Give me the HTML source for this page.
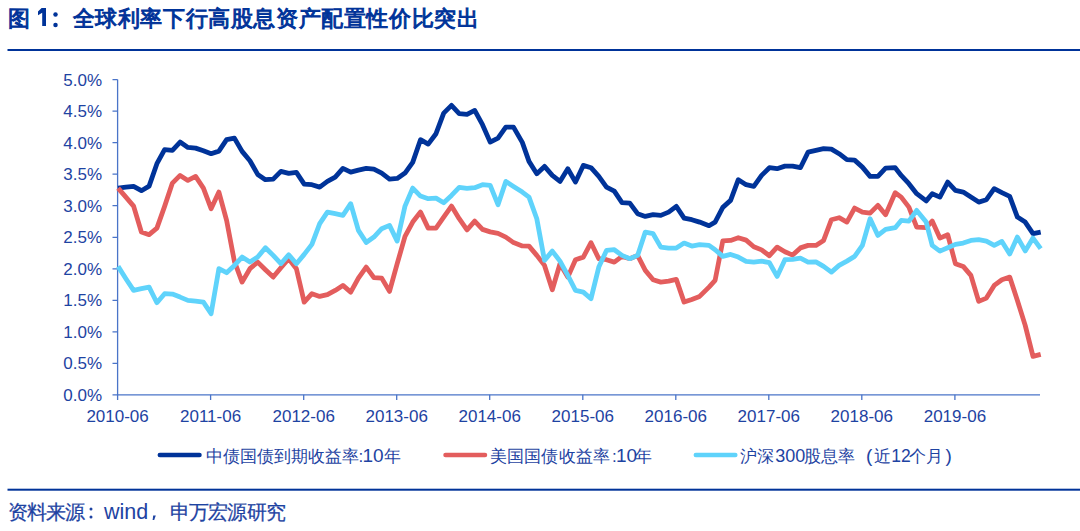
<!DOCTYPE html>
<html><head><meta charset="utf-8">
<style>
html,body{margin:0;padding:0;background:#fff;}
body{width:1080px;height:531px;overflow:hidden;position:relative;font-family:"Liberation Sans",sans-serif;}
svg{position:absolute;left:0;top:0;}
</style></head><body>
<svg width="1080" height="531" viewBox="0 0 1080 531">
<polygon fill="#003399" points="41.6,7.9 46,7.9 46,26 42.2,26 42.2,12.8 38,15.2 38,11.6"/>
<circle cx="55.5" cy="14.4" r="2.25" fill="#003399"/><circle cx="55.5" cy="25" r="2.25" fill="#003399"/>
<rect x="7.5" y="49" width="1073" height="2" fill="#003399"/>
<rect x="7.5" y="488.7" width="1073" height="2" fill="#003399"/>
<g stroke="#4a74c8" stroke-width="1.3" fill="none">
<line x1="117.6" y1="79.6" x2="117.6" y2="395"/>
<line x1="117.6" y1="394.8" x2="1040" y2="394.8"/>
<path d="M112.5 79.7H117.6M112.5 111.2H117.6M112.5 142.7H117.6M112.5 174.2H117.6M112.5 205.7H117.6M112.5 237.3H117.6M112.5 268.8H117.6M112.5 300.3H117.6M112.5 331.8H117.6M112.5 363.3H117.6M112.5 394.8H117.6"/>
<path d="M117.6 394.8V400M210.6 394.8V400M303.7 394.8V400M396.7 394.8V400M489.7 394.8V400M582.8 394.8V400M675.8 394.8V400M768.8 394.8V400M861.8 394.8V400M954.9 394.8V400"/>
</g>
<g font-family="Liberation Sans" font-size="17" fill="#1e43a2" text-anchor="end">
<text x="102" y="85.8">5.0%</text>
<text x="102" y="117.3">4.5%</text>
<text x="102" y="148.8">4.0%</text>
<text x="102" y="180.3">3.5%</text>
<text x="102" y="211.8">3.0%</text>
<text x="102" y="243.4">2.5%</text>
<text x="102" y="274.9">2.0%</text>
<text x="102" y="306.4">1.5%</text>
<text x="102" y="337.9">1.0%</text>
<text x="102" y="369.4">0.5%</text>
<text x="102" y="400.9">0.0%</text>
</g>
<g font-family="Liberation Sans" font-size="17" fill="#1e43a2" text-anchor="middle">
<text x="117.6" y="421.8">2010-06</text>
<text x="210.6" y="421.8">2011-06</text>
<text x="303.7" y="421.8">2012-06</text>
<text x="396.7" y="421.8">2013-06</text>
<text x="489.7" y="421.8">2014-06</text>
<text x="582.8" y="421.8">2015-06</text>
<text x="675.8" y="421.8">2016-06</text>
<text x="768.8" y="421.8">2017-06</text>
<text x="861.8" y="421.8">2018-06</text>
<text x="954.9" y="421.8">2019-06</text>
</g>
<g fill="none" stroke-width="4.8" stroke-linejoin="round" stroke-linecap="butt">
<polyline stroke="#003399" points="118.1,188.1 125.9,187.1 133.6,186.4 141.4,190.7 149.1,186.1 156.9,163.7 164.6,149.7 172.4,150.4 180.1,142.1 187.9,147.4 195.6,148.1 203.4,150.7 211.1,153.7 218.9,151.1 226.6,139.7 234.4,138.1 242.1,151.4 249.9,160.7 257.7,174.4 265.4,179.7 273.2,179.1 280.9,171.4 288.7,173.4 296.4,172.4 304.2,184.1 311.9,184.7 319.7,187.1 327.4,181.4 335.2,177.1 342.9,168.4 350.7,172.1 358.4,170.1 366.2,168.4 373.9,169.1 381.7,173.1 389.5,179.1 397.2,178.4 405.0,173.1 412.7,162.4 420.5,139.7 428.2,144.1 436.0,133.7 443.7,113.1 451.5,105.4 459.2,113.7 467.0,114.4 474.7,110.4 482.5,124.7 490.2,142.1 498.0,138.1 505.8,127.1 513.5,127.1 522.3,142.4 529.0,161.4 536.8,173.7 544.5,166.4 552.3,175.4 560.0,181.4 567.8,168.7 575.5,182.1 583.3,165.4 591.0,167.7 598.8,176.4 606.5,187.1 614.3,191.1 622.0,202.7 629.8,203.1 637.6,213.7 645.3,216.4 653.1,214.7 660.8,215.4 668.6,212.1 676.3,206.4 684.1,218.1 691.8,219.7 699.6,222.1 709.0,225.7 715.1,222.1 722.8,207.4 730.6,200.4 738.3,179.7 746.1,184.7 753.8,186.4 761.6,175.4 769.4,167.7 777.1,168.7 784.9,166.1 792.6,166.1 800.4,167.7 808.1,152.1 815.9,150.4 823.6,148.7 831.4,149.1 839.1,153.7 846.9,159.7 854.6,160.1 862.4,167.1 870.1,176.4 877.9,176.4 885.6,168.1 895.2,167.7 901.2,175.4 908.9,183.7 916.7,193.7 926.2,200.9 932.2,193.7 939.9,197.1 947.7,182.1 955.4,190.4 963.2,192.1 970.9,197.1 978.7,202.1 986.4,199.7 994.2,188.7 1001.9,192.7 1009.7,196.4 1017.4,217.1 1025.2,222.1 1033.0,233.7 1040.7,232.1"/>
<polyline stroke="#e35d5d" points="118.1,188.1 125.9,197.1 133.6,206.1 141.4,232.1 149.1,234.7 156.9,228.1 164.6,206.4 172.4,183.1 180.1,175.4 187.9,180.4 195.6,176.4 203.4,188.1 211.1,208.7 218.9,192.1 226.6,220.4 234.4,261.4 242.1,282.1 249.9,268.7 257.7,262.1 265.4,269.7 273.2,277.1 280.9,267.7 288.7,258.7 296.4,268.7 304.2,302.1 311.9,293.7 319.7,296.4 327.4,294.7 335.2,290.4 342.9,285.4 350.7,292.1 358.4,278.1 366.2,267.1 373.9,277.7 381.7,278.1 389.5,291.4 397.2,263.7 405.0,236.4 412.7,222.1 420.5,212.1 428.2,228.1 436.0,228.1 443.7,217.1 451.5,206.1 459.2,218.7 467.0,229.9 474.7,221.1 482.5,229.4 490.2,231.9 498.0,233.4 505.8,237.1 513.5,242.6 522.3,245.9 529.0,246.1 536.8,255.4 544.5,265.4 552.3,289.7 560.0,263.7 567.8,277.1 575.5,259.7 583.3,257.1 591.0,242.7 598.8,258.7 606.5,259.7 614.3,262.1 622.0,256.4 629.8,258.7 637.6,255.4 645.3,270.4 653.1,279.7 660.8,282.1 668.6,281.1 676.3,279.4 684.1,302.1 691.8,299.4 699.6,296.4 709.0,287.1 715.1,280.4 722.8,240.9 730.6,240.4 738.3,237.7 746.1,240.1 753.8,246.7 761.6,249.9 769.4,255.7 777.1,247.1 784.9,251.7 792.6,255.1 800.4,247.9 808.1,245.4 815.9,245.4 823.6,240.4 831.4,219.7 839.1,217.7 846.9,222.1 854.6,208.1 862.4,212.1 870.1,213.1 877.9,205.4 885.6,214.7 895.2,192.7 901.2,197.1 908.9,207.1 916.7,227.1 926.2,227.7 932.2,221.1 939.9,238.1 947.7,234.7 955.4,263.7 963.2,266.4 970.9,275.4 978.7,301.4 986.4,298.1 994.2,285.4 1001.9,279.7 1009.7,277.1 1017.4,300.4 1025.2,325.4 1033.0,356.4 1040.7,354.4"/>
<polyline stroke="#5fd3fb" points="118.1,266.4 125.9,278.7 133.6,290.4 141.4,288.7 149.1,287.1 156.9,302.7 164.6,293.7 172.4,294.1 180.1,297.1 187.9,300.4 195.6,301.1 203.4,302.1 211.1,313.7 218.9,268.7 226.6,272.7 234.4,265.4 242.1,257.1 249.9,262.1 257.7,257.1 265.4,247.7 273.2,255.4 280.9,263.7 288.7,254.7 296.4,263.7 304.2,254.4 311.9,244.4 319.7,223.7 327.4,212.1 335.2,213.7 342.9,215.4 350.7,203.7 358.4,230.4 366.2,242.4 373.9,237.1 381.7,228.7 389.5,225.4 397.2,241.1 405.0,206.1 412.7,188.1 420.5,196.1 428.2,198.7 436.0,198.1 443.7,202.7 451.5,195.4 459.2,187.4 467.0,188.4 474.7,187.7 482.5,184.7 490.2,185.4 498.0,204.7 505.8,181.4 513.5,186.4 522.3,192.1 529.0,197.1 536.8,218.7 544.5,260.4 552.3,251.1 560.0,261.1 567.8,275.4 575.5,290.4 583.3,292.1 591.0,298.7 598.8,267.1 606.5,250.4 614.3,249.7 622.0,255.4 629.8,258.7 637.6,255.4 645.3,232.1 653.1,233.7 660.8,247.1 668.6,248.1 676.3,248.1 684.1,243.1 691.8,246.1 699.6,244.7 709.0,245.4 715.1,249.7 722.8,256.4 730.6,254.4 738.3,257.1 746.1,261.4 753.8,262.1 761.6,261.1 769.4,262.7 777.1,276.4 784.9,259.7 792.6,259.4 800.4,258.1 808.1,262.1 815.9,261.9 823.6,266.4 831.4,272.1 839.1,265.4 846.9,261.1 854.6,256.4 862.4,245.4 870.1,218.7 877.9,235.4 885.6,229.4 895.2,227.7 901.2,220.4 908.9,221.1 916.7,210.4 926.2,222.1 932.2,245.4 939.9,251.1 947.7,247.7 955.4,244.4 963.2,243.1 970.9,240.4 978.7,239.7 986.4,241.1 994.2,245.4 1001.9,241.4 1009.7,253.9 1017.4,237.1 1025.2,250.9 1033.0,238.1 1040.7,248.7"/>
</g>
<g stroke-width="4.5" stroke-linecap="round">
<line x1="159.8" y1="455" x2="199.5" y2="455" stroke="#003399"/>
<line x1="445.5" y1="455" x2="485" y2="455" stroke="#e35d5d"/>
<line x1="695.8" y1="455" x2="735.3" y2="455" stroke="#5fd3fb"/>
</g>
<g font-family="Liberation Sans" font-size="17" fill="#1e43a2">
<text y="461.5"><tspan x="205.5">中债国债到期收益率:</tspan><tspan font-size="19" x="362.5">10</tspan><tspan x="383.5">年</tspan></text>
<text y="461.5"><tspan x="489.5 506.8 524.1 541.4 558.7 576.0 593.3 612">美国国债收益率:</tspan><tspan font-size="19" x="616">10</tspan><tspan x="635">年</tspan></text>
<text y="461.5"><tspan x="739.5">沪深</tspan><tspan font-size="18" x="775.3">300</tspan><tspan x="803.5">股息率</tspan><tspan font-size="19" x="866">(</tspan><tspan x="873.5">近</tspan><tspan font-size="17.5" x="891.2">12</tspan><tspan x="909">个月</tspan><tspan font-size="19" x="945.5">)</tspan></text>
</g>
<g fill="#003399" stroke="#003399" stroke-width="1" font-family="Liberation Sans" font-size="21.5">
<text x="8" y="26">图</text>
<text x="72.6 95.2 117.8 140.4 163.0 185.6 208.2 230.8 253.4 276.0 298.6 321.2 343.8 366.4 389.0 411.6 434.2 456.8" y="26">全球利率下行高股息资产配置性价比突出</text>
</g>
<g fill="#1e43a2" stroke="#1e43a2" stroke-width="0.25" font-family="Liberation Sans" font-size="19.5">
<text x="7.5 26.7 45.9 65.1" y="519">资料来源</text>
<text x="169.8 189.0 208.2 227.4 246.6 265.8" y="519">申万宏源研究</text>
<text x="104" y="519" font-size="21.5" stroke-width="0">wind</text>
</g>
<circle cx="91" cy="509" r="1.5" fill="#1e43a2"/><circle cx="91" cy="517" r="1.5" fill="#1e43a2"/>
<path d="M153.2 515.5h2.6l-1.6 4.5h-1.6z" fill="#1e43a2"/>
</svg>
</body></html>
